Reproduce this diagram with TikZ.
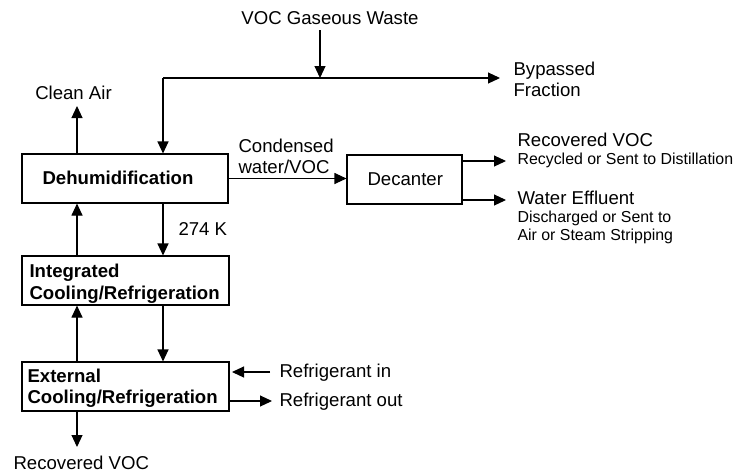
\documentclass[tikz,border=0pt]{standalone}
\usepackage{fontspec}
\setmainfont{Liberation Sans}
\usetikzlibrary{arrows.meta}
\begin{document}
\begin{tikzpicture}[x=1pt,y=-1pt,
  line width=1.1pt,
  box/.style={draw, rectangle, inner sep=0pt, minimum height=49pt},
  flow/.style={-{Triangle[length=12pt,width=11pt]}},
  lbl/.style={anchor=base west, inner sep=0pt, font=\fontsize{18.6}{22}\selectfont},
  lblc/.style={anchor=base, inner sep=0pt, font=\fontsize{18.6}{22}\selectfont},
  blbl/.style={anchor=base west, inner sep=0pt, font=\fontsize{18.6}{22}\selectfont\bfseries},
  slbl/.style={anchor=base west, inner sep=0pt, font=\fontsize{15.9}{19}\selectfont}]
\useasboundingbox (0,0) rectangle (738,475);

% boxes
\node[box, minimum width=206pt] (dehum) at (125,178.5) {};
\node[box, minimum width=207pt] (integ) at (125.5,280.5) {};
\node[box, minimum width=207pt] (ext) at (125.5,386.5) {};
\node[box, minimum width=115pt] (dec) at (404.5,179.5) {};

% coordinates
\coordinate (vocin) at (320,30);
\coordinate (split) at (320,78);
\coordinate (corner) at (163,78);
\coordinate (bypass) at (500,78);
\coordinate (clean) at (77,106);
\coordinate (recb) at (77,447);
\coordinate (refin) at (270,372);
\coordinate (refintip) at (232,372);
\coordinate (refout) at (272,401);
\coordinate (recv) at (506,161);
\coordinate (wat) at (506,200);

% connectors
\draw[flow] (vocin) -- (split);
\draw[flow] (corner) -- (bypass);
\draw[flow] (corner) -- (corner |- dehum.north);
\draw[flow] (dehum.north -| clean) -- (clean);
\draw[flow] (dehum.east) -- (dehum.east -| dec.west);
\draw[flow] (dehum.south -| corner) -- (integ.north -| corner);
\draw[flow] (integ.north -| clean) -- (dehum.south -| clean);
\draw[flow] (integ.south -| corner) -- (ext.north -| corner);
\draw[flow] (ext.north -| clean) -- (integ.south -| clean);
\draw[flow] (ext.south -| clean) -- (recb);
\draw[flow] (refin) -- (refintip);
\draw[flow] (ext.east |- refout) -- (refout);
\draw[flow] (dec.east |- recv) -- (recv);
\draw[flow] (dec.east |- wat) -- (wat);

% labels
\node[lblc] (t1) at (330,24) {VOC Gaseous Waste};
\node[lbl] (t2) at (513,75) {Bypassed};
\node[lbl] (t3) at (513,96) {Fraction};
\node[lblc] (t4) at (73.5,99) {Clean Air};
\node[lbl] (t5) at (238,152) {Condensed};
\node[lbl] (t6) at (238,173) {water/VOC};
\node[blbl] (t7) at (42,184) {Dehumidification};
\node[lbl] (t8) at (178,235) {274 K};
\node[lbl] (t9) at (367,185) {Decanter};
\node[lbl] (t10) at (517,146) {Recovered VOC};
\node[slbl] (t11) at (517,164) {Recycled or Sent to Distillation};
\node[lbl] (t12) at (517,204) {Water Effluent};
\node[slbl] (t13) at (517,222) {Discharged or Sent to};
\node[slbl] (t14) at (517,240) {Air or Steam Stripping};
\node[blbl] (t15) at (29,277) {Integrated};
\node[blbl] (t16) at (29,299) {Cooling/Refrigeration};
\node[blbl] (t17) at (27,382) {External};
\node[blbl] (t18) at (27,403) {Cooling/Refrigeration};
\node[lbl] (t19) at (13,469) {Recovered VOC};
\node[lbl] (t20) at (279,377) {Refrigerant in};
\node[lbl] (t21) at (279,406) {Refrigerant out};
\end{tikzpicture}
\end{document}
